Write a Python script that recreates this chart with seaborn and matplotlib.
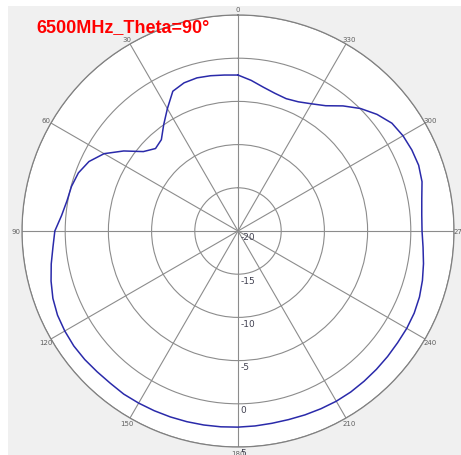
import numpy as np
import pandas as pd
import matplotlib
matplotlib.use("Agg")
import matplotlib.pyplot as plt
import seaborn as sns
from matplotlib.patches import Rectangle

# Measured pattern: azimuth (deg) and gain (dB)
angles_deg = [0, 5, 10, 15, 20, 25, 30, 35, 40, 45, 50, 55,
              60, 65, 70, 75, 80, 85, 90, 95, 100, 105, 110, 115,
              120, 125, 130, 135, 140, 145, 150, 155, 160, 165, 170, 175,
              180, 185, 190, 195, 200, 205, 210, 215, 220, 225, 230, 235,
              240, 245, 250, 255, 260, 265, 270, 275, 280, 285, 290, 295,
              300, 305, 310, 315, 320, 325, 330, 335, 340, 345, 350, 355]
gain_db = [-1.95, -1.88, -1.75, -1.65, -1.75, -2.15, -3.65, -5.0, -6.2, -6.5, -5.7, -3.85,
           -2.1, -0.97, -0.34, -0.05, 0.1, 0.5, 1.2, 1.5, 1.95, 2.4, 2.8, 3.05,
           3.15, 3.2, 3.15, 3.05, 3.0, 3.05, 3.0, 2.95, 2.9, 2.85, 2.8, 2.75,
           2.7, 2.65, 2.6, 2.6, 2.65, 2.7, 2.75, 2.75, 2.7, 2.65, 2.6, 2.55,
           2.55, 2.5, 2.35, 2.1, 1.8, 1.5, 1.3, 1.35, 1.6, 2.05, 2.25, 2.2,
           2.05, 1.75, 1.0, 0.05, -1.1, -2.3, -3.0, -3.5, -3.7, -3.5, -3.1, -2.5]

r_ticks = [-20, -15, -10, -5, 0, 5]
r_tick_labels = ["-20", "-15", "-10", "-5", "0", "5"]
theta_ticks = [0, 30, 60, 90, 120, 150, 180, 210, 240, 270, 300, 330]
title = "6500MHz_Theta=90°"

sns.set_theme(style="white")
plt.rcParams["font.family"] = ["DejaVu Sans"]
plt.rcParams["axes.unicode_minus"] = False

# close the loop
df = pd.DataFrame({
    "theta": np.deg2rad(angles_deg + [angles_deg[0] + 360]),
    "gain": gain_db + [gain_db[0]],
})

W, H = 461, 456
fig = plt.figure(figsize=(W / 100, H / 100), dpi=100)
fig.patch.set_facecolor("white")
fig.add_artist(Rectangle((8 / W, 0), 1 - 8 / W, (H - 7) / H,
                         transform=fig.transFigure, facecolor="#f0f0f0",
                         edgecolor="none", zorder=0))

cx, cy, R = 238, 232, 216
ax = fig.add_axes([(cx - R) / W, (H - cy - R) / H, 2 * R / W, 2 * R / H],
                  projection="polar")
ax.set_facecolor("white")
ax.set_theta_zero_location("N")
ax.set_theta_direction(1)

sns.lineplot(data=df, x="theta", y="gain", ax=ax, sort=False, estimator=None,
             color="#2a2aaa", lw=1.1)

ax.set_ylim(r_ticks[0], r_ticks[-1])
ax.set_yticks(r_ticks)
ax.set_yticklabels([])
ax.set_xticks(np.deg2rad(theta_ticks))
ax.set_xticklabels([])
ax.set_xlabel("")
ax.set_ylabel("")
ax.grid(True, color="#8c8c8c", lw=0.8)
ax.spines["polar"].set_color("#808080")
ax.spines["polar"].set_linewidth(0.9)

# angle labels sitting just outside the rim
for t in theta_ticks:
    a = np.deg2rad(t)
    off = 4.3
    ax.annotate(str(t), xy=(a, r_ticks[-1]),
                xytext=(-off * np.sin(a), off * np.cos(a)),
                textcoords="offset points", ha="center", va="center",
                fontsize=5, color="#606060", annotation_clip=False)

# level labels along the 180° spoke
for t, lab in zip(r_ticks, r_tick_labels):
    ax.annotate(lab, xy=(np.pi, t), xytext=(1.5, -1), textcoords="offset points",
                ha="left", va="top", fontsize=6.5, color="#404050",
                annotation_clip=False)

fig.text(36 / W, (H - 32) / H, title, color="#ff0000", fontsize=13,
         fontweight="bold", family="Liberation Sans", ha="left", va="baseline")

fig.savefig("out.png", dpi=100)
